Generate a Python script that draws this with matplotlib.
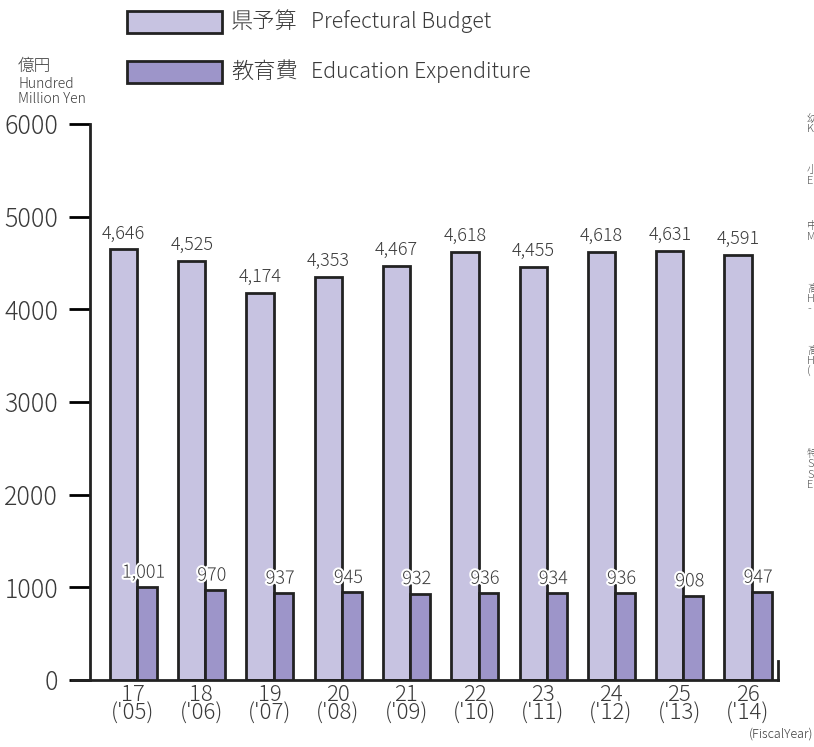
"""県予算と教育費の推移（棒グラフ）。"""

import matplotlib
matplotlib.use("Agg")
import matplotlib.pyplot as plt
import matplotlib.patheffects as pe
from matplotlib.patches import Rectangle
import numpy as np

plt.rcParams["font.family"] = ["Noto Sans CJK JP", "DejaVu Sans"]
plt.rcParams["font.weight"] = "light"

# データ
years = ["17\n('05)", "18\n('06)", "19\n('07)", "20\n('08)", "21\n('09)",
         "22\n('10)", "23\n('11)", "24\n('12)", "25\n('13)", "26\n('14)"]
budget = [4646, 4525, 4174, 4353, 4467, 4618, 4455, 4618, 4631, 4591]
education = [1001, 970, 937, 945, 932, 936, 934, 936, 908, 947]
y_ticks = [0, 1000, 2000, 3000, 4000, 5000, 6000]

# 色
LIGHT = "#c7c3e1"
DARK = "#9d95c9"
EDGE = "#222222"
TEXT = "#3a3a3a"

W, H = 814, 747
fig = plt.figure(figsize=(W / 100, H / 100), dpi=100)
ax = fig.add_axes([90 / W, 1 - 680 / H, (778 - 90) / W, (680 - 124) / H])

x = np.arange(len(years))
w_light = 0.40
w_dark = 0.29

ax.bar(x - w_light / 2, budget, width=w_light, color=LIGHT,
       edgecolor=EDGE, linewidth=2.0, zorder=2)
ax.bar(x + w_dark / 2, education, width=w_dark, color=DARK,
       edgecolor=EDGE, linewidth=2.0, zorder=3)

for xi, v in zip(x, budget):
    ax.annotate(f"{v:,}", (xi - w_light / 2, v), xytext=(0, 5),
                textcoords="offset points", ha="center", va="bottom",
                fontsize=13, color=TEXT)

for xi, v in zip(x, education):
    ax.annotate(f"{v:,}", (xi + w_dark / 2 - 0.05, v), xytext=(0, 4),
                textcoords="offset points", ha="center", va="bottom",
                fontsize=13, color=TEXT, zorder=5,
                path_effects=[pe.withStroke(linewidth=3, foreground="white")])

ax.set_xlim(-0.69, 9.385)
ax.set_ylim(0, 6000)
ax.set_yticks(y_ticks)
ax.set_yticklabels([str(t) for t in y_ticks], fontsize=18, color=TEXT)
ax.set_xticks(x - 0.06)
ax.set_xticklabels(years, fontsize=16, color=TEXT, linespacing=0.8)
ax.tick_params(axis="y", direction="out", length=15, width=2, pad=8)
ax.tick_params(axis="x", length=0, pad=3)

for side in ("top", "right"):
    ax.spines[side].set_visible(False)
for side in ("left", "bottom"):
    ax.spines[side].set_linewidth(2)
    ax.spines[side].set_color(EDGE)
ax.spines["bottom"].set_bounds(-0.95, 9.385)
# 右端の小さな縦線
ax.plot([1, 1], [0, 0.035], transform=ax.transAxes, color=EDGE,
        linewidth=2, clip_on=False)

# 単位
fig.text(18 / W, 1 - 66 / H, "億円", fontsize=12, color=TEXT, va="center")
fig.text(18 / W, 1 - 84 / H, "Hundred", fontsize=10, color=TEXT,
         va="center")
fig.text(18 / W, 1 - 99 / H, "Million Yen", fontsize=10, color=TEXT,
         va="center")
fig.text(813 / W, 1 - 734 / H, "(FiscalYear)", fontsize=9, color=TEXT,
         ha="right", va="center")

# 凡例
legend_items = [("県予算", "Prefectural Budget", LIGHT, 22),
                ("教育費", "Education Expenditure", DARK, 72)]
for jp, en, color, yc in legend_items:
    fig.patches.append(Rectangle((127 / W, 1 - (yc + 11) / H), 95 / W,
                                 22 / H, transform=fig.transFigure,
                                 facecolor=color, edgecolor=EDGE,
                                 linewidth=2))
    fig.text(231 / W, 1 - yc / H, jp, fontsize=16, color=TEXT,
             va="center")
    fig.text(311 / W, 1 - yc / H, en, fontsize=15.3, color=TEXT,
             va="center")

# 右端で切れている隣の図のラベル
side_labels = [("幼\nK", 124), ("小\nE", 176), ("中\nM", 232),
               ("高\nH\n-", 300), ("高\nH\n(", 362), ("特\nS\nS\nE", 470)]
for txt, yc in side_labels:
    fig.text(807 / W, 1 - yc / H, txt, fontsize=8, color="#555555",
             va="center", linespacing=0.9)

fig.savefig("out.png", dpi=100)
